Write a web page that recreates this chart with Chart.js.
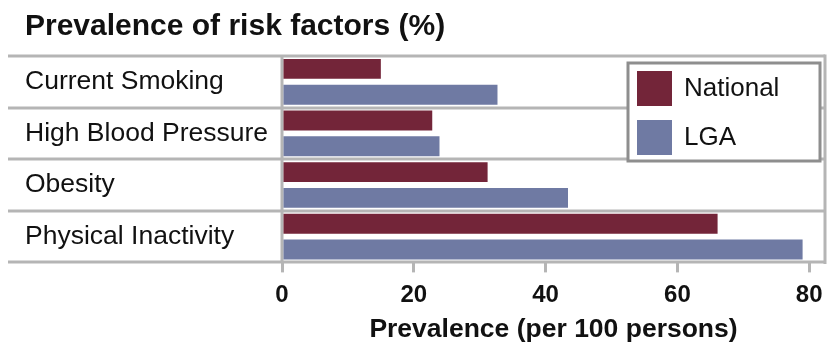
<!DOCTYPE html>
<html>
<head>
<meta charset="utf-8">
<script src="https://cdn.jsdelivr.net/npm/chart.js@4.4.0/dist/chart.umd.min.js"></script>
<style>
  html, body { margin: 0; padding: 0; background: #ffffff; }
  #wrap { width: 832px; height: 354px; position: relative; }
</style>
</head>
<body>
<div id="wrap"><canvas id="c" width="832" height="354"></canvas></div>
<script>
const categories = ["Current Smoking", "High Blood Pressure", "Obesity", "Physical Inactivity"];
const nationalValues = [15.0, 22.8, 31.2, 66.1];
const lgaValues = [32.7, 23.9, 43.4, 79.0];
const seriesNames = ["National", "LGA"];
const xTicks = [0, 20, 40, 60, 80];
const chartTitle = "Prevalence of risk factors (%)";
const xAxisTitle = "Prevalence (per 100 persons)";

const NAT_COLOR = "#732539";
const LGA_COLOR = "#6f7aa3";
const LINE_COLOR = "#b5b5b5";
const FONT = "'Liberation Sans', Arial, sans-serif";

const framePlugin = {
  id: 'frame',
  beforeDatasetsDraw(chart) {
    const ctx = chart.ctx;
    const ca = chart.chartArea;
    const y = chart.scales.y;
    ctx.save();
    ctx.strokeStyle = LINE_COLOR;
    ctx.lineWidth = 3;
    for (let i = 0; i <= categories.length; i++) {
      const py = Math.round(y.getPixelForValue(i - 0.5));
      ctx.beginPath();
      ctx.moveTo(8, py);
      ctx.lineTo(ca.right, py);
      ctx.stroke();
    }
    ctx.beginPath();
    ctx.moveTo(ca.left, ca.top);
    ctx.lineTo(ca.left, ca.bottom);
    ctx.moveTo(ca.right, ca.top - 1.5);
    ctx.lineTo(ca.right, ca.bottom + 1.5);
    ctx.stroke();
    ctx.restore();
  }
};

const legendPlugin = {
  id: 'boxLegend',
  afterDraw(chart) {
    const ctx = chart.ctx;
    const bx = 628, by = 63, bw = 192, bh = 98;
    ctx.save();
    ctx.fillStyle = '#ffffff';
    ctx.fillRect(bx, by, bw, bh);
    ctx.strokeStyle = '#8e8e8e';
    ctx.lineWidth = 3;
    ctx.strokeRect(bx, by, bw, bh);
    ctx.font = "26px " + FONT;
    ctx.textBaseline = 'middle';
    ctx.textAlign = 'left';
    chart.data.datasets.forEach((ds, i) => {
      const sy = by + 8 + i * 49;
      ctx.fillStyle = ds.backgroundColor;
      ctx.fillRect(bx + 9, sy, 35, 35);
      ctx.fillStyle = '#111111';
      ctx.fillText(ds.label, bx + 56, sy + 18);
    });
    ctx.restore();
  }
};

new Chart(document.getElementById('c'), {
  type: 'bar',
  data: {
    labels: categories,
    datasets: [
      { label: seriesNames[0], data: nationalValues, backgroundColor: NAT_COLOR },
      { label: seriesNames[1], data: lgaValues, backgroundColor: LGA_COLOR }
    ]
  },
  options: {
    indexAxis: 'y',
    responsive: false,
    animation: false,
    devicePixelRatio: 1,
    datasets: { bar: { categoryPercentage: 1.0, barPercentage: 0.77 } },
    layout: { padding: { left: 25, right: 7, top: 0, bottom: 4 } },
    plugins: {
      legend: { display: false },
      tooltip: { enabled: false },
      title: {
        display: true,
        text: chartTitle,
        align: 'start',
        color: '#111111',
        font: { family: FONT, size: 30, weight: 'bold' },
        padding: { top: 9, bottom: 11 },
        fullSize: true
      }
    },
    scales: {
      x: {
        type: 'linear',
        min: 0,
        max: 82.4,
        afterBuildTicks(scale) {
          scale.ticks = xTicks.map(v => ({ value: v }));
        },
        grid: {
          display: true,
          drawOnChartArea: false,
          drawTicks: true,
          tickLength: 10,
          color: LINE_COLOR,
          lineWidth: 3
        },
        border: { display: false },
        ticks: {
          color: '#111111',
          padding: 9,
          font: { family: FONT, size: 24, weight: 'bold' },
          maxRotation: 0
        },
        title: {
          display: true,
          text: xAxisTitle,
          color: '#111111',
          font: { family: FONT, size: 26.5, weight: 'bold' },
          padding: { top: -5, bottom: 4 }
        }
      },
      y: {
        grid: { display: false },
        border: { display: false },
        afterFit(scale) { scale.width = 257; },
        ticks: {
          crossAlign: 'far',
          color: '#111111',
          padding: 0,
          font: { family: FONT, size: 26.5 }
        }
      }
    }
  },
  plugins: [framePlugin, legendPlugin]
});
</script>
</body>
</html>
